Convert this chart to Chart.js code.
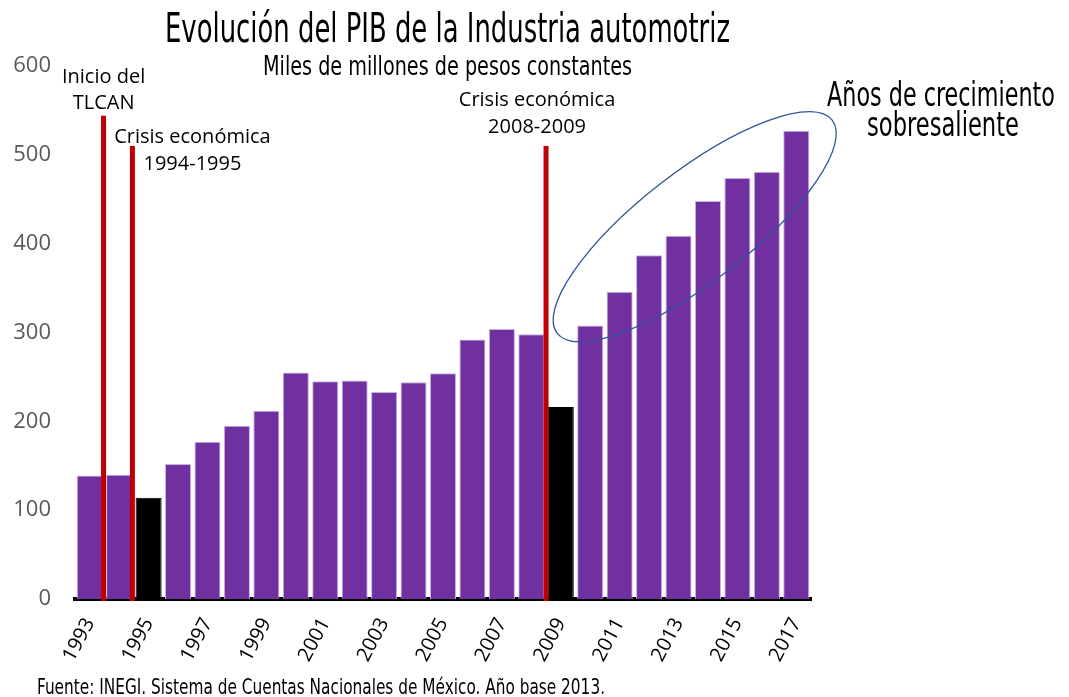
<!DOCTYPE html>
<html>
<head>
<meta charset="utf-8">
<script src="https://cdn.jsdelivr.net/npm/chart.js@4.4.1/dist/chart.umd.min.js"></script>
<style>
  html, body { margin: 0; padding: 0; background: #fff; }
  #wrap { width: 1069px; height: 697px; position: relative; }
</style>
</head>
<body>
<div id="wrap"><canvas id="pibChart"></canvas></div>
<script>
// --- datos ---
const years = ['1993','1994','1995','1996','1997','1998','1999','2000','2001','2002','2003','2004','2005',
               '2006','2007','2008','2009','2010','2011','2012','2013','2014','2015','2016','2017'];
const pib = [139, 140, 114, 152, 177, 195, 212, 255, 245, 246, 233, 244, 254,
             292, 304, 298, 216, 308, 346, 387, 409, 448, 474, 481, 527];
const crisisYears = ['1995', '2009'];
const yMax = 600;
const yStep = 100;

// lineas de eventos: posicion entre categorias (indice) y altura en el eje y
const eventPositions = [0.47, 1.45, 15.5];
const eventTops = [544, 510, 510];
const eventLabels = [['Inicio del', 'TLCAN'], ['Crisis económica', '1994-1995'], ['Crisis económica', '2008-2009']];

// elipse "años de crecimiento": centro en coordenadas de datos [indice, valor]
const growthCenter = [20.55, 419];

const titleText = 'Evolución del PIB de la Industria automotriz';
const subtitleText = 'Miles de millones de pesos constantes';
const growthText = ['Años de crecimiento', 'sobresaliente'];
const sourceText = 'Fuente: INEGI. Sistema de Cuentas Nacionales de México. Año base 2013.';

const NARROW = '"Liberation Sans Narrow", "DejaVu Sans Condensed", sans-serif';
const SANS = '"Open Sans", "Noto Sans", sans-serif';

const barColors = years.map(y => crisisYears.includes(y) ? '#000000' : '#7030A0');
const borderColors = years.map(y => crisisYears.includes(y) ? '#000000' : '#C8B2DC');

// texto condensado: se escala horizontalmente hasta el ancho deseado
function fitText(ctx, text, x, y, size, width, align) {
  ctx.font = size + 'px ' + NARROW;
  const sx = width / ctx.measureText(text).width;
  ctx.save();
  ctx.translate(x, y);
  ctx.scale(sx, 1);
  ctx.textAlign = align || 'center';
  ctx.fillText(text, 0, 0);
  ctx.restore();
}

// --- plugin de anotaciones ---
const annotations = {
  id: 'annotations',
  afterDatasetsDraw(chart) {
    const { ctx, scales: { x, y } } = chart;
    const x0 = x.getPixelForValue(0);
    const step = x.getPixelForValue(1) - x0;
    const base = y.getPixelForValue(0);
    ctx.save();

    // lineas rojas
    ctx.fillStyle = '#C00000';
    eventPositions.forEach((pos, i) => {
      const px = x0 + pos * step;
      const top = y.getPixelForValue(eventTops[i]);
      ctx.fillRect(px - 2.5, top, 5, base + 2 - top);
    });

    // textos de eventos
    ctx.fillStyle = '#000';
    ctx.font = '20px ' + SANS;
    ctx.textAlign = 'center';
    ctx.textBaseline = 'middle';
    const offs = [[0, -38, -12], [60, -9, 18], [-9, -46, -19]];
    eventLabels.forEach((lines, i) => {
      const px = x0 + eventPositions[i] * step;
      const top = y.getPixelForValue(eventTops[i]);
      ctx.fillText(lines[0], px + offs[i][0], top + offs[i][1]);
      ctx.fillText(lines[1], px + offs[i][0], top + offs[i][2]);
    });

    // elipse
    const cx = x0 + growthCenter[0] * step;
    const cy = y.getPixelForValue(growthCenter[1]);
    ctx.beginPath();
    ctx.ellipse(cx, cy, 174, 55, -37.8 * Math.PI / 180, 0, Math.PI * 2);
    ctx.strokeStyle = '#2F5597';
    ctx.lineWidth = 1.3;
    ctx.stroke();

    // titulos y notas
    ctx.textBaseline = 'alphabetic';
    fitText(ctx, titleText, 447.5, 42, 40, 565);
    fitText(ctx, subtitleText, 447.5, 75, 26, 369);

    ctx.textBaseline = 'middle';
    fitText(ctx, growthText[0], 941, 97, 33, 228);
    fitText(ctx, growthText[1], 943, 127, 33, 152);

    ctx.textBaseline = 'alphabetic';
    fitText(ctx, sourceText, 37, 694, 21, 568, 'left');
    ctx.restore();
  }
};

new Chart(document.getElementById('pibChart'), {
  type: 'bar',
  data: {
    labels: years,
    datasets: [{
      label: 'PIB',
      data: pib,
      backgroundColor: barColors,
      borderColor: borderColors,
      borderWidth: 1,
      categoryPercentage: 1,
      barPercentage: 0.885
    }]
  },
  options: {
    responsive: true,
    maintainAspectRatio: false,
    animation: false,
    layout: { padding: { top: 66, left: 0, right: 258, bottom: 0 } },
    plugins: { legend: { display: false }, tooltip: { enabled: false } },
    scales: {
      x: {
        grid: { display: false },
        border: { display: true, color: '#000', width: 4 },
        ticks: {
          autoSkip: false,
          minRotation: 62,
          maxRotation: 62,
          padding: 7,
          color: '#000',
          font: { family: SANS, size: 20 },
          callback: (v, i) => i % 2 === 0 ? years[i] : ''
        },
        afterFit(axis) { axis.height = 98; }
      },
      y: {
        min: 0,
        max: yMax,
        grid: { display: false },
        border: { display: false },
        ticks: {
          stepSize: yStep,
          padding: 16,
          color: '#595959',
          font: { family: SANS, size: 22 }
        },
        afterFit(axis) { axis.width = 75; }
      }
    }
  },
  plugins: [annotations]
});
</script>
</body>
</html>
